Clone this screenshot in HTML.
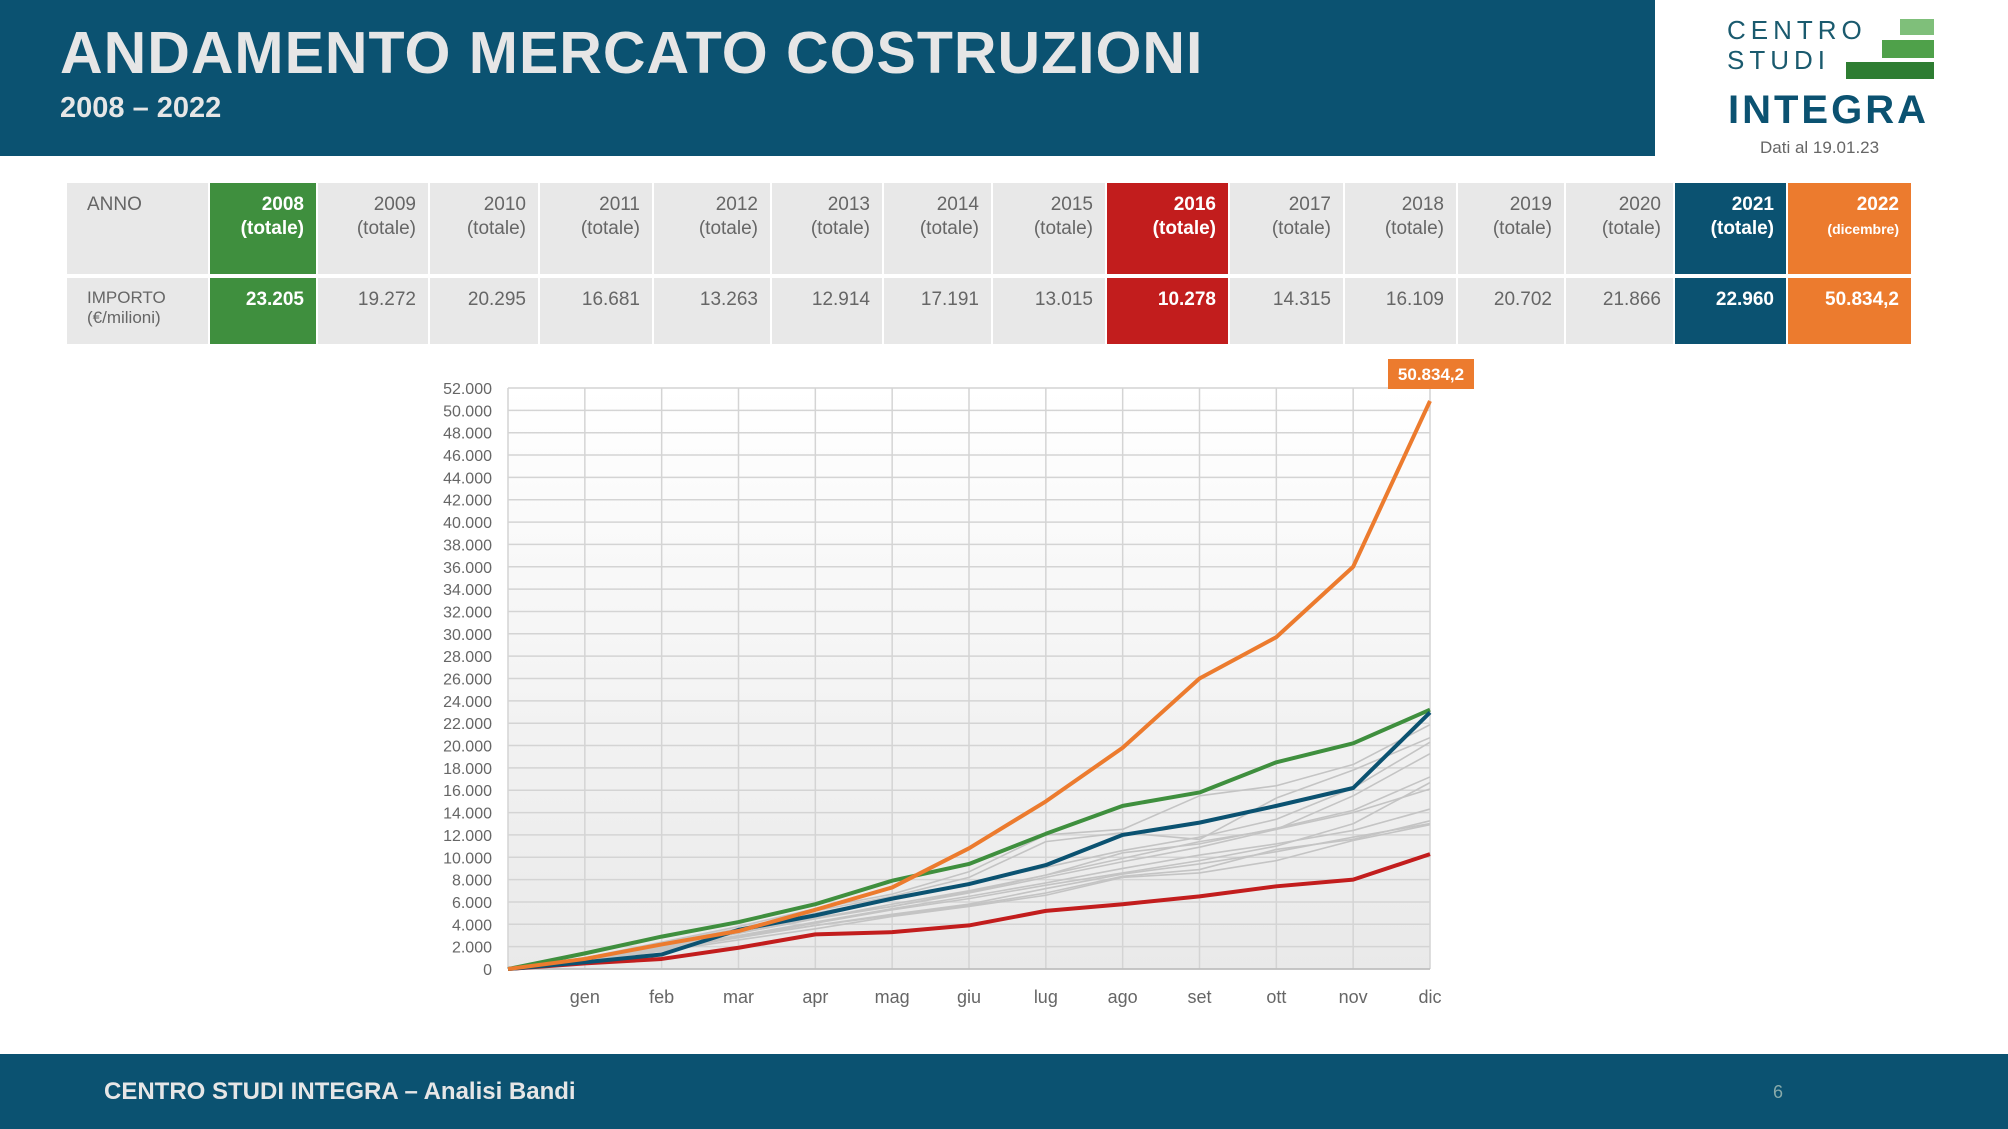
<!DOCTYPE html>
<html><head><meta charset="utf-8">
<style>
body{margin:0;width:2008px;height:1129px;background:#fff;position:relative;overflow:hidden;font-family:"Liberation Sans",sans-serif}
.abs{position:absolute}
#hdr{left:0;top:0;width:1655px;height:156px;background:#0b5271}
#title{left:60px;top:19px;font-size:59px;font-weight:bold;color:#e6e6e6;letter-spacing:1px}
#sub{left:60px;top:92px;font-size:29px;font-weight:bold;color:#e6e6e6}
#foot{left:0;top:1054px;width:2008px;height:75px;background:#0b5271}
.cell{position:absolute;background:#e8e8e8;color:#666;font-size:19px;text-align:right;box-sizing:border-box;padding:10px 12px 0 0;line-height:24px}
</style></head><body>
<div class="abs" id="hdr"></div>
<div class="abs" id="title">ANDAMENTO MERCATO COSTRUZIONI</div>
<div class="abs" id="sub">2008 – 2022</div>
<div class="abs" style="left:0;top:0;width:2008px;height:160px">
 <div class="abs" style="left:1727px;top:15px;font-size:26px;color:#1a5a6e;line-height:30px;letter-spacing:5px">CENTRO</div>
 <div class="abs" style="left:1727px;top:45px;font-size:26px;color:#1a5a6e;line-height:30px;letter-spacing:5px">STUDI</div>
 <div class="abs" style="left:1728px;top:88px;font-size:40px;font-weight:bold;color:#0b5271;letter-spacing:3px;line-height:44px">INTEGRA</div>
 <div class="abs" style="left:1760px;top:138px;font-size:17px;color:#666">Dati al 19.01.23</div>
 <div class="abs" style="left:1900px;top:19px;width:34px;height:16px;background:#7fbf7a"></div>
 <div class="abs" style="left:1882px;top:40px;width:52px;height:18px;background:#4fa14a"></div>
 <div class="abs" style="left:1846px;top:62px;width:88px;height:17px;background:#2e7d32"></div>
</div>
<div id="table"></div>
<div class="abs" id="foot"></div>
<div class="abs" style="left:104px;top:1078px;font-size:24px;font-weight:bold;color:#e6e6e6">CENTRO STUDI INTEGRA – Analisi Bandi</div>
<div class="abs" style="left:1773px;top:1082px;font-size:18px;color:#8aa">6</div>
<svg id="chart" class="abs" style="left:0;top:0" width="2008" height="1129">
<defs><linearGradient id="bg" x1="0" y1="0" x2="0" y2="1"><stop offset="0" stop-color="#fff"/><stop offset="1" stop-color="#e9e9e9"/></linearGradient></defs>
</svg>
<script>
const years=["2008","2009","2010","2011","2012","2013","2014","2015","2016","2017","2018","2019","2020","2021","2022"];
const totals=["23.205","19.272","20.295","16.681","13.263","12.914","17.191","13.015","10.278","14.315","16.109","20.702","21.866","22.960","50.834,2"];
const months=["","gen","feb","mar","apr","mag","giu","lug","ago","set","ott","nov","dic"];
const yTicks=[0,2000,4000,6000,8000,10000,12000,14000,16000,18000,20000,22000,24000,26000,28000,30000,32000,34000,36000,38000,40000,42000,44000,46000,48000,50000,52000];
const s2008=[0,1400,2900,4200,5800,7900,9400,12100,14600,15800,18500,20200,23205];
const s2009=[0,900,2000,3200,4500,5600,6800,8200,9600,10900,12500,15500,19272];
const s2010=[0,1000,2200,3600,5000,6300,7700,9100,10600,11800,13400,16200,20295];
const s2011=[0,800,1800,2900,4100,5300,6300,7500,8600,9700,11000,13000,16681];
const s2012=[0,700,1700,2800,3900,4800,5700,6800,8300,8900,10700,11600,13263];
const s2013=[0,700,1600,2600,3600,4700,5600,6600,8200,8600,9700,11500,12914];
const s2014=[0,900,2100,3300,4600,5600,6900,8400,10400,11200,12600,14200,17191];
const s2015=[0,800,1800,2900,3900,4900,5800,7200,8500,9400,10500,11800,13015];
const s2016=[0,500,900,1900,3100,3300,3900,5200,5800,6500,7400,8000,10278];
const s2017=[0,800,1900,3000,4200,5400,6500,7700,9000,10200,11200,12400,14315];
const s2018=[0,900,2000,3200,4500,5800,7000,8400,9900,11400,12500,14000,16109];
const s2019=[0,1000,2300,3600,5200,6500,8200,11400,12200,11600,15300,17800,20702];
const s2020=[0,1000,2400,3800,5400,6700,8700,12000,12500,15500,16400,18300,21866];
const s2021=[0,600,1300,3500,4800,6300,7600,9300,12000,13100,14600,16200,22960];
const s2022=[0,900,2200,3400,5300,7300,10800,15000,19800,26000,29700,36000,50834.2];

const colX=[67,210,318,430,540,654,772,884,993,1107,1230,1345,1458,1566,1675,1788,1913];
const tbl=document.getElementById('table');
const special={0:'#3f8f3e',8:'#c21d1d',13:'#0b5271',14:'#ec7b2e'};
function mk(x,y,w,h,html,bg,col,bold,name){
 const d=document.createElement('div');d.className='cell';
 
 
 d.style.left=x+'px';d.style.top=y+'px';d.style.width=w+'px';d.style.height=h+'px';
 if(bg){d.style.background=bg;}
 if(col)d.style.color=col; if(bold)d.style.fontWeight='bold';
 d.innerHTML=html;tbl.appendChild(d);return d;}
let a=mk(67,183,141,91,'ANNO',null,null,false,'header-anno');a.style.textAlign='left';a.style.paddingLeft='20px';
let b=mk(67,278,141,66,'IMPORTO<br><span style="font-size:17px">(€/milioni)</span>',null,null,false,'header-importo');b.style.textAlign='left';b.style.paddingLeft='20px';b.style.lineHeight='20px';b.style.fontSize='17px';
years.forEach((y,i)=>{
 const x=colX[i+1],w=colX[i+2]-colX[i+1]-2;
 const bg=special[i]||null,c=bg?'#fff':null;
 const sub=i==14?'<span style="font-size:14px">(dicembre)</span>':'(totale)';
 mk(x,183,w,91,y+'<br>'+sub,bg,c,!!bg,'year-'+y);
 mk(x,278,w,66,totals[i],bg,c,!!bg,'total-'+y);
});

const svg=document.getElementById('chart');const NS='http://www.w3.org/2000/svg';
const L=508,R=1430,T=388,B=969;
const xs=i=>L+(R-L)*i/12;const ys=v=>B-(B-T)*v/52000;
function el(t,at,name){const e=document.createElementNS(NS,t);for(const k in at)e.setAttribute(k,at[k]);
 
 
 svg.appendChild(e);return e;}
el('rect',{x:L,y:T,width:R-L,height:B-T,fill:'url(#bg)'},'plot-area');
yTicks.forEach(v=>{el('line',{x1:L,x2:R,y1:ys(v),y2:ys(v),stroke:'#d4d4d4','stroke-width':1.5},'grid-y');
 const t=el('text',{x:L-16,y:ys(v)+6,'text-anchor':'end','font-size':16,fill:'#666','font-family':'Liberation Sans'},'y-tick');t.textContent=v.toLocaleString('de-DE');});
months.forEach((m,i)=>{el('line',{x1:xs(i),x2:xs(i),y1:T,y2:B,stroke:'#d4d4d4','stroke-width':1.5},'grid-x');
 if(m){const t=el('text',{x:xs(i),y:1003,'text-anchor':'middle','font-size':18,fill:'#666','font-family':'Liberation Sans'},'x-tick');t.textContent=m;}});
el('line',{x1:L,x2:R,y1:B,y2:B,stroke:'#bbb','stroke-width':1.5},'x-axis');
function line(arr,col,w,name){el('polyline',{points:arr.map((v,i)=>xs(i)+','+ys(v)).join(' '),fill:'none',stroke:col,'stroke-width':w,'stroke-linejoin':'round'},name);}
[s2009,s2010,s2011,s2012,s2013,s2014,s2015,s2017,s2018,s2019,s2020].forEach((s,k)=>line(s,'#c4c4c4',1.6,'line-gray-'+k));
line(s2016,'#c21d1d',4,'line-2016');
line(s2008,'#3f8f3e',4,'line-2008');
line(s2021,'#0b5271',4,'line-2021');
line(s2022,'#ec7b2e',4,'line-2022');
el('rect',{x:1388,y:359,width:86,height:30,fill:'#ec7b2e'},'value-label-box');
const lb=el('text',{x:1431,y:380,'text-anchor':'middle','font-size':17,'font-weight':'bold',fill:'#fff','font-family':'Liberation Sans'},'value-label');lb.textContent=totals[14];
</script>
</body></html>
